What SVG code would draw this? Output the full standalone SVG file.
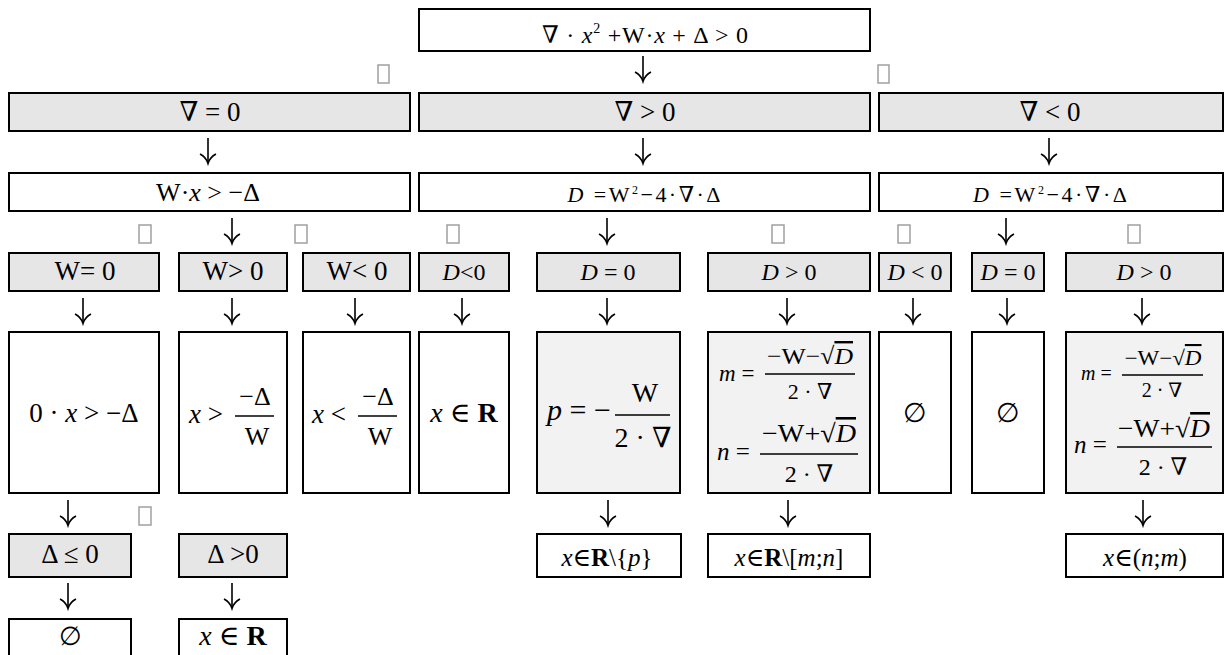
<svg xmlns="http://www.w3.org/2000/svg" width="1225" height="655" viewBox="0 0 1225 655">
<style>
text{font-family:"Liberation Serif","DejaVu Serif",serif;fill:#000}
.c{text-anchor:middle}
.i{font-style:italic}
.b{font-weight:bold}
.g{fill:#e6e6e6;stroke:#000;stroke-width:2}
.w{fill:#fff;stroke:#000;stroke-width:2}
.l{fill:#f2f2f2;stroke:#000;stroke-width:2}
.bar{stroke:#000;stroke-width:1.6}
.tofu{fill:#fff;stroke:#a0a0a0;stroke-width:1.5}
.ov{text-decoration:overline}
</style>
<defs>
<g id="arr" fill="none" stroke="#000" stroke-width="1.6">
<path d="M0,0 V25"/>
<path d="M-8,16 Q-2,19 0,25.5 Q2,19 8,16"/>
</g>
</defs>
<rect width="1225" height="655" fill="#fff"/>

<g id="connectors">
<use href="#arr" x="643" y="56"/>
<use href="#arr" x="208" y="138"/>
<use href="#arr" x="643" y="138"/>
<use href="#arr" x="1049" y="138"/>
<use href="#arr" x="232" y="218"/>
<use href="#arr" x="607" y="218"/>
<use href="#arr" x="1006" y="218"/>
<use href="#arr" x="83" y="298"/>
<use href="#arr" x="232" y="298"/>
<use href="#arr" x="355" y="298"/>
<use href="#arr" x="462" y="298"/>
<use href="#arr" x="607" y="298"/>
<use href="#arr" x="787" y="298"/>
<use href="#arr" x="913" y="298"/>
<use href="#arr" x="1007" y="298"/>
<use href="#arr" x="1142" y="298"/>
<use href="#arr" x="68" y="500"/>
<use href="#arr" x="608" y="500"/>
<use href="#arr" x="788" y="500"/>
<use href="#arr" x="1143" y="500"/>
<use href="#arr" x="68" y="583"/>
<use href="#arr" x="232" y="583"/>
<rect class="tofu" x="378" y="65" width="11" height="18"/>
<rect class="tofu" x="878" y="65" width="11" height="18"/>
<rect class="tofu" x="139" y="225" width="12" height="18"/>
<rect class="tofu" x="295" y="225" width="12" height="18"/>
<rect class="tofu" x="447" y="225" width="12" height="18"/>
<rect class="tofu" x="772" y="225" width="12" height="18"/>
<rect class="tofu" x="898" y="225" width="12" height="18"/>
<rect class="tofu" x="1128" y="225" width="12" height="18"/>
<rect class="tofu" x="139" y="507" width="12" height="18"/>
</g>

<g id="top">
<rect class="w" x="419" y="9" width="451" height="42"/>
<text x="645" y="43" font-size="24" class="c" textLength="206" lengthAdjust="spacing">∇ · <tspan class="i">x</tspan><tspan font-size="14" dy="-10">2</tspan><tspan dy="10"> +W·</tspan><tspan class="i">x</tspan> + Δ &gt; 0</text>
</g>

<g id="a-zero">
<rect class="g" x="9" y="93" width="401" height="38"/>
<text x="210" y="121" font-size="27" class="c">∇ = 0</text>
</g>
<g id="a-pos">
<rect class="g" x="419" y="93" width="451" height="38"/>
<text x="645" y="121" font-size="27" class="c">∇ &gt; 0</text>
</g>
<g id="a-neg">
<rect class="g" x="879" y="93" width="344" height="38"/>
<text x="1050" y="121" font-size="27" class="c">∇ &lt; 0</text>
</g>

<g id="lin">
<rect class="w" x="9" y="173" width="401" height="38"/>
<text x="208" y="201" font-size="26" class="c">W·<tspan class="i">x</tspan> &gt; −Δ</text>
</g>
<g id="disc-mid">
<rect class="w" x="419" y="173" width="451" height="38"/>
<text x="644" y="202" font-size="22" class="c" textLength="153" lengthAdjust="spacing"><tspan class="i">D</tspan> =W<tspan font-size="12" dy="-8">2</tspan><tspan dy="8">−4·∇·Δ</tspan></text>
</g>
<g id="disc-right">
<rect class="w" x="879" y="173" width="344" height="38"/>
<text x="1050" y="202" font-size="22" class="c" textLength="154" lengthAdjust="spacing"><tspan class="i">D</tspan> =W<tspan font-size="12" dy="-8">2</tspan><tspan dy="8">−4·∇·Δ</tspan></text>
</g>

<g id="w-zero">
<rect class="g" x="9" y="253" width="150" height="38"/>
<text x="85" y="280" font-size="27" class="c">W= 0</text>
</g>
<g id="w-pos">
<rect class="g" x="179" y="253" width="108" height="38"/>
<text x="233" y="280" font-size="27" class="c">W&gt; 0</text>
</g>
<g id="w-neg">
<rect class="g" x="303" y="253" width="107" height="38"/>
<text x="357" y="280" font-size="27" class="c">W&lt; 0</text>
</g>
<g id="m-dneg">
<rect class="g" x="419" y="253" width="90" height="38"/>
<text x="464" y="280" font-size="24" class="c"><tspan class="i">D</tspan>&lt;0</text>
</g>
<g id="m-dzero">
<rect class="g" x="537" y="253" width="143" height="38"/>
<text x="608" y="280" font-size="24" class="c"><tspan class="i">D</tspan> = 0</text>
</g>
<g id="m-dpos">
<rect class="g" x="708" y="253" width="162" height="38"/>
<text x="789" y="280" font-size="24" class="c"><tspan class="i">D</tspan> &gt; 0</text>
</g>
<g id="r-dneg">
<rect class="g" x="879" y="253" width="72" height="38"/>
<text x="915" y="280" font-size="24" class="c"><tspan class="i">D</tspan> &lt; 0</text>
</g>
<g id="r-dzero">
<rect class="g" x="972" y="253" width="72" height="38"/>
<text x="1008" y="280" font-size="24" class="c"><tspan class="i">D</tspan> = 0</text>
</g>
<g id="r-dpos">
<rect class="g" x="1066" y="253" width="157" height="38"/>
<text x="1144" y="280" font-size="24" class="c"><tspan class="i">D</tspan> &gt; 0</text>
</g>

<g id="res-w-zero">
<rect class="w" x="9" y="332" width="150" height="161"/>
<text x="84" y="422" font-size="27" class="c">0 · <tspan class="i">x</tspan> &gt; −Δ</text>
</g>
<g id="res-w-pos">
<rect class="w" x="179" y="332" width="108" height="161"/>
<text x="189" y="423" font-size="27"><tspan class="i">x</tspan> &gt;</text>
<line class="bar" x1="235" y1="416" x2="274" y2="416"/>
<text x="255" y="405" font-size="26" class="c">−Δ</text>
<text x="257" y="445" font-size="26" class="c">W</text>
</g>
<g id="res-w-neg">
<rect class="w" x="303" y="332" width="107" height="161"/>
<text x="312" y="423" font-size="27"><tspan class="i">x</tspan> &lt;</text>
<line class="bar" x1="358" y1="416" x2="397" y2="416"/>
<text x="378" y="405" font-size="26" class="c">−Δ</text>
<text x="380" y="445" font-size="26" class="c">W</text>
</g>
<g id="res-m-dneg">
<rect class="w" x="419" y="332" width="90" height="161"/>
<text x="464" y="422" font-size="28" class="c"><tspan class="i">x</tspan> ∈ <tspan class="b">R</tspan></text>
</g>
<g id="res-m-dzero">
<rect class="l" x="537" y="332" width="143" height="161"/>
<text x="547" y="420" font-size="30"><tspan class="i">p</tspan> = −</text>
<line class="bar" x1="615" y1="415" x2="670" y2="415"/>
<text x="645" y="402" font-size="28" class="c">W</text>
<text x="643" y="447" font-size="28" class="c">2 · ∇</text>
</g>
<g id="res-m-dpos">
<rect class="l" x="708" y="332" width="162" height="161"/>
<text x="719" y="381" font-size="23"><tspan class="i">m</tspan> =</text>
<line class="bar" x1="765" y1="374" x2="855" y2="374"/>
<text x="810" y="364" font-size="24" class="c" textLength="86" lengthAdjust="spacingAndGlyphs">−W−√<tspan class="i ov">D</tspan></text>
<text x="810" y="399" font-size="22" class="c">2 · ∇</text>
<text x="717" y="460" font-size="25"><tspan class="i">n</tspan> =</text>
<line class="bar" x1="760" y1="454" x2="858" y2="454"/>
<text x="809" y="442" font-size="26" class="c" textLength="94" lengthAdjust="spacingAndGlyphs">−W+√<tspan class="i ov">D</tspan></text>
<text x="809" y="482" font-size="24" class="c">2 · ∇</text>
</g>
<g id="res-r-dneg">
<rect class="w" x="879" y="332" width="72" height="161"/>
<text x="915" y="422" font-size="27" class="c">∅</text>
</g>
<g id="res-r-dzero">
<rect class="w" x="972" y="332" width="72" height="161"/>
<text x="1008" y="422" font-size="27" class="c">∅</text>
</g>
<g id="res-r-dpos">
<rect class="l" x="1066" y="332" width="157" height="161"/>
<text x="1081" y="380" font-size="20"><tspan class="i">m</tspan> =</text>
<line class="bar" x1="1122" y1="375" x2="1203" y2="375"/>
<text x="1163" y="365" font-size="21" class="c" textLength="77" lengthAdjust="spacingAndGlyphs">−W−√<tspan class="i ov">D</tspan></text>
<text x="1162" y="397" font-size="20" class="c">2 · ∇</text>
<text x="1074" y="453" font-size="25"><tspan class="i">n</tspan> =</text>
<line class="bar" x1="1117" y1="447" x2="1212" y2="447"/>
<text x="1164" y="437" font-size="26" class="c" textLength="92" lengthAdjust="spacingAndGlyphs">−W+√<tspan class="i ov">D</tspan></text>
<text x="1163" y="475" font-size="24" class="c">2 · ∇</text>
</g>

<g id="delta-le">
<rect class="g" x="9" y="534" width="122" height="43"/>
<text x="70" y="563" font-size="27" class="c">Δ ≤ 0</text>
</g>
<g id="delta-gt">
<rect class="g" x="179" y="534" width="108" height="43"/>
<text x="233" y="563" font-size="27" class="c">Δ &gt;0</text>
</g>
<g id="ans-m-dzero">
<rect class="w" x="537" y="534" width="144" height="43"/>
<text x="607" y="566" font-size="25" class="c"><tspan class="i">x</tspan>∈<tspan class="b">R</tspan>\{<tspan class="i">p</tspan>}</text>
</g>
<g id="ans-m-dpos">
<rect class="w" x="708" y="534" width="162" height="43"/>
<text x="789" y="566" font-size="25" class="c"><tspan class="i">x</tspan>∈<tspan class="b">R</tspan>\[<tspan class="i">m</tspan>;<tspan class="i">n</tspan>]</text>
</g>
<g id="ans-r-dpos">
<rect class="w" x="1066" y="534" width="157" height="43"/>
<text x="1145" y="566" font-size="25" class="c"><tspan class="i">x</tspan>∈(<tspan class="i">n</tspan>;<tspan class="i">m</tspan>)</text>
</g>

<g id="empty-set">
<rect class="w" x="9" y="619" width="122" height="45"/>
<text x="70" y="645" font-size="26" class="c">∅</text>
</g>
<g id="all-reals">
<rect class="w" x="179" y="619" width="108" height="45"/>
<text x="233" y="645" font-size="28" class="c"><tspan class="i">x</tspan> ∈ <tspan class="b">R</tspan></text>
</g>
</svg>
